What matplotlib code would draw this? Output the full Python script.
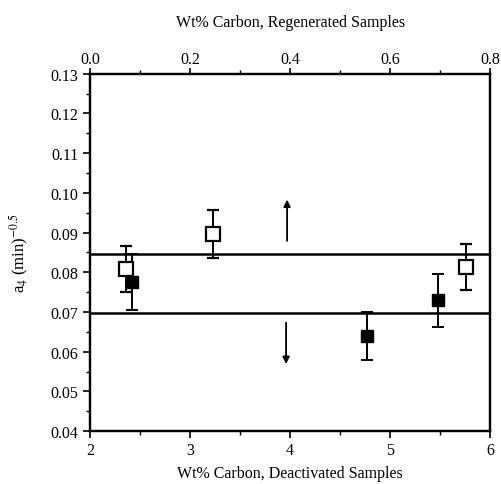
import matplotlib
matplotlib.use("Agg")
import matplotlib.pyplot as plt
from matplotlib.ticker import MultipleLocator, FormatStrFormatter

plt.rcParams['font.family'] = ['Liberation Serif', 'DejaVu Serif']
plt.rcParams['mathtext.fontset'] = 'stix'

# Deactivated samples (filled squares, bottom axis)
deact_x = [2.42, 4.77, 5.48]
deact_y = [0.0775, 0.0640, 0.0729]
deact_err = [0.0070, 0.0060, 0.0066]

# Regenerated samples (open squares, top axis)
regen_x = [0.071, 0.245, 0.753]
regen_y = [0.0808, 0.0897, 0.0814]
regen_err = [0.0057, 0.0061, 0.0058]

# Horizontal reference lines
upper_line = 0.0846
lower_line = 0.0697

# Arrows (x, y_start, y_end)
arrow_up = (3.97, 0.0872, 0.0990)
arrow_down = (3.96, 0.0680, 0.0562)

fig = plt.figure(figsize=(5.01, 4.85), dpi=100)
ax = fig.add_axes([0.18, 0.109, 0.798, 0.737])

ax.set_xlim(2, 6)
ax.set_ylim(0.04, 0.13)

ax.axhline(upper_line, color='black', lw=1.8, zorder=2)
ax.axhline(lower_line, color='black', lw=1.8, zorder=2)

ax.errorbar(deact_x, deact_y, yerr=deact_err, fmt='s', color='black',
            markerfacecolor='black', markeredgecolor='black', markersize=9,
            capsize=4, elinewidth=1.4, capthick=1.4, zorder=4)

ax.annotate('', xy=(arrow_up[0], arrow_up[2]), xytext=(arrow_up[0], arrow_up[1]),
            arrowprops=dict(arrowstyle='-|>', color='black', lw=1.3,
                            mutation_scale=10))
ax.annotate('', xy=(arrow_down[0], arrow_down[2]), xytext=(arrow_down[0], arrow_down[1]),
            arrowprops=dict(arrowstyle='-|>', color='black', lw=1.3,
                            mutation_scale=10))

ax.xaxis.set_major_locator(MultipleLocator(1))
ax.xaxis.set_minor_locator(MultipleLocator(0.5))
ax.yaxis.set_major_locator(MultipleLocator(0.01))
ax.yaxis.set_minor_locator(MultipleLocator(0.005))
ax.yaxis.set_major_formatter(FormatStrFormatter('%.2f'))
ax.tick_params(axis='both', which='major', direction='out', length=5, width=1.2,
               labelsize=11.5)
ax.tick_params(axis='x', which='major', pad=3)
ax.tick_params(axis='both', which='minor', direction='out', length=3, width=1.0)
ax.tick_params(axis='y', right=False)

for s in ax.spines.values():
    s.set_linewidth(1.6)

ax.set_xlabel('Wt% Carbon, Deactivated Samples', fontsize=11.5, labelpad=5)
ax.set_ylabel(r'a$_4$ (min)$^{-0.5}$', fontsize=12, labelpad=14)

ax2 = ax.twiny()
ax2.set_xlim(0.0, 0.8)
ax2.errorbar(regen_x, regen_y, yerr=regen_err, fmt='s', color='black',
             markerfacecolor='white', markeredgecolor='black', markersize=10,
             markeredgewidth=1.6, capsize=4, elinewidth=1.4, capthick=1.4,
             zorder=5)
ax2.xaxis.set_major_locator(MultipleLocator(0.2))
ax2.xaxis.set_minor_locator(MultipleLocator(0.1))
ax2.xaxis.set_major_formatter(FormatStrFormatter('%.1f'))
ax2.tick_params(axis='x', which='major', direction='out', length=4, width=1.2,
                labelsize=11.5, pad=1)
ax2.tick_params(axis='x', which='minor', direction='out', length=3, width=1.0)
ax2.set_xlabel('Wt% Carbon, Regenerated Samples', fontsize=11.5, labelpad=18)
for s in ax2.spines.values():
    s.set_linewidth(1.6)

fig.savefig('out.png', dpi=100)
